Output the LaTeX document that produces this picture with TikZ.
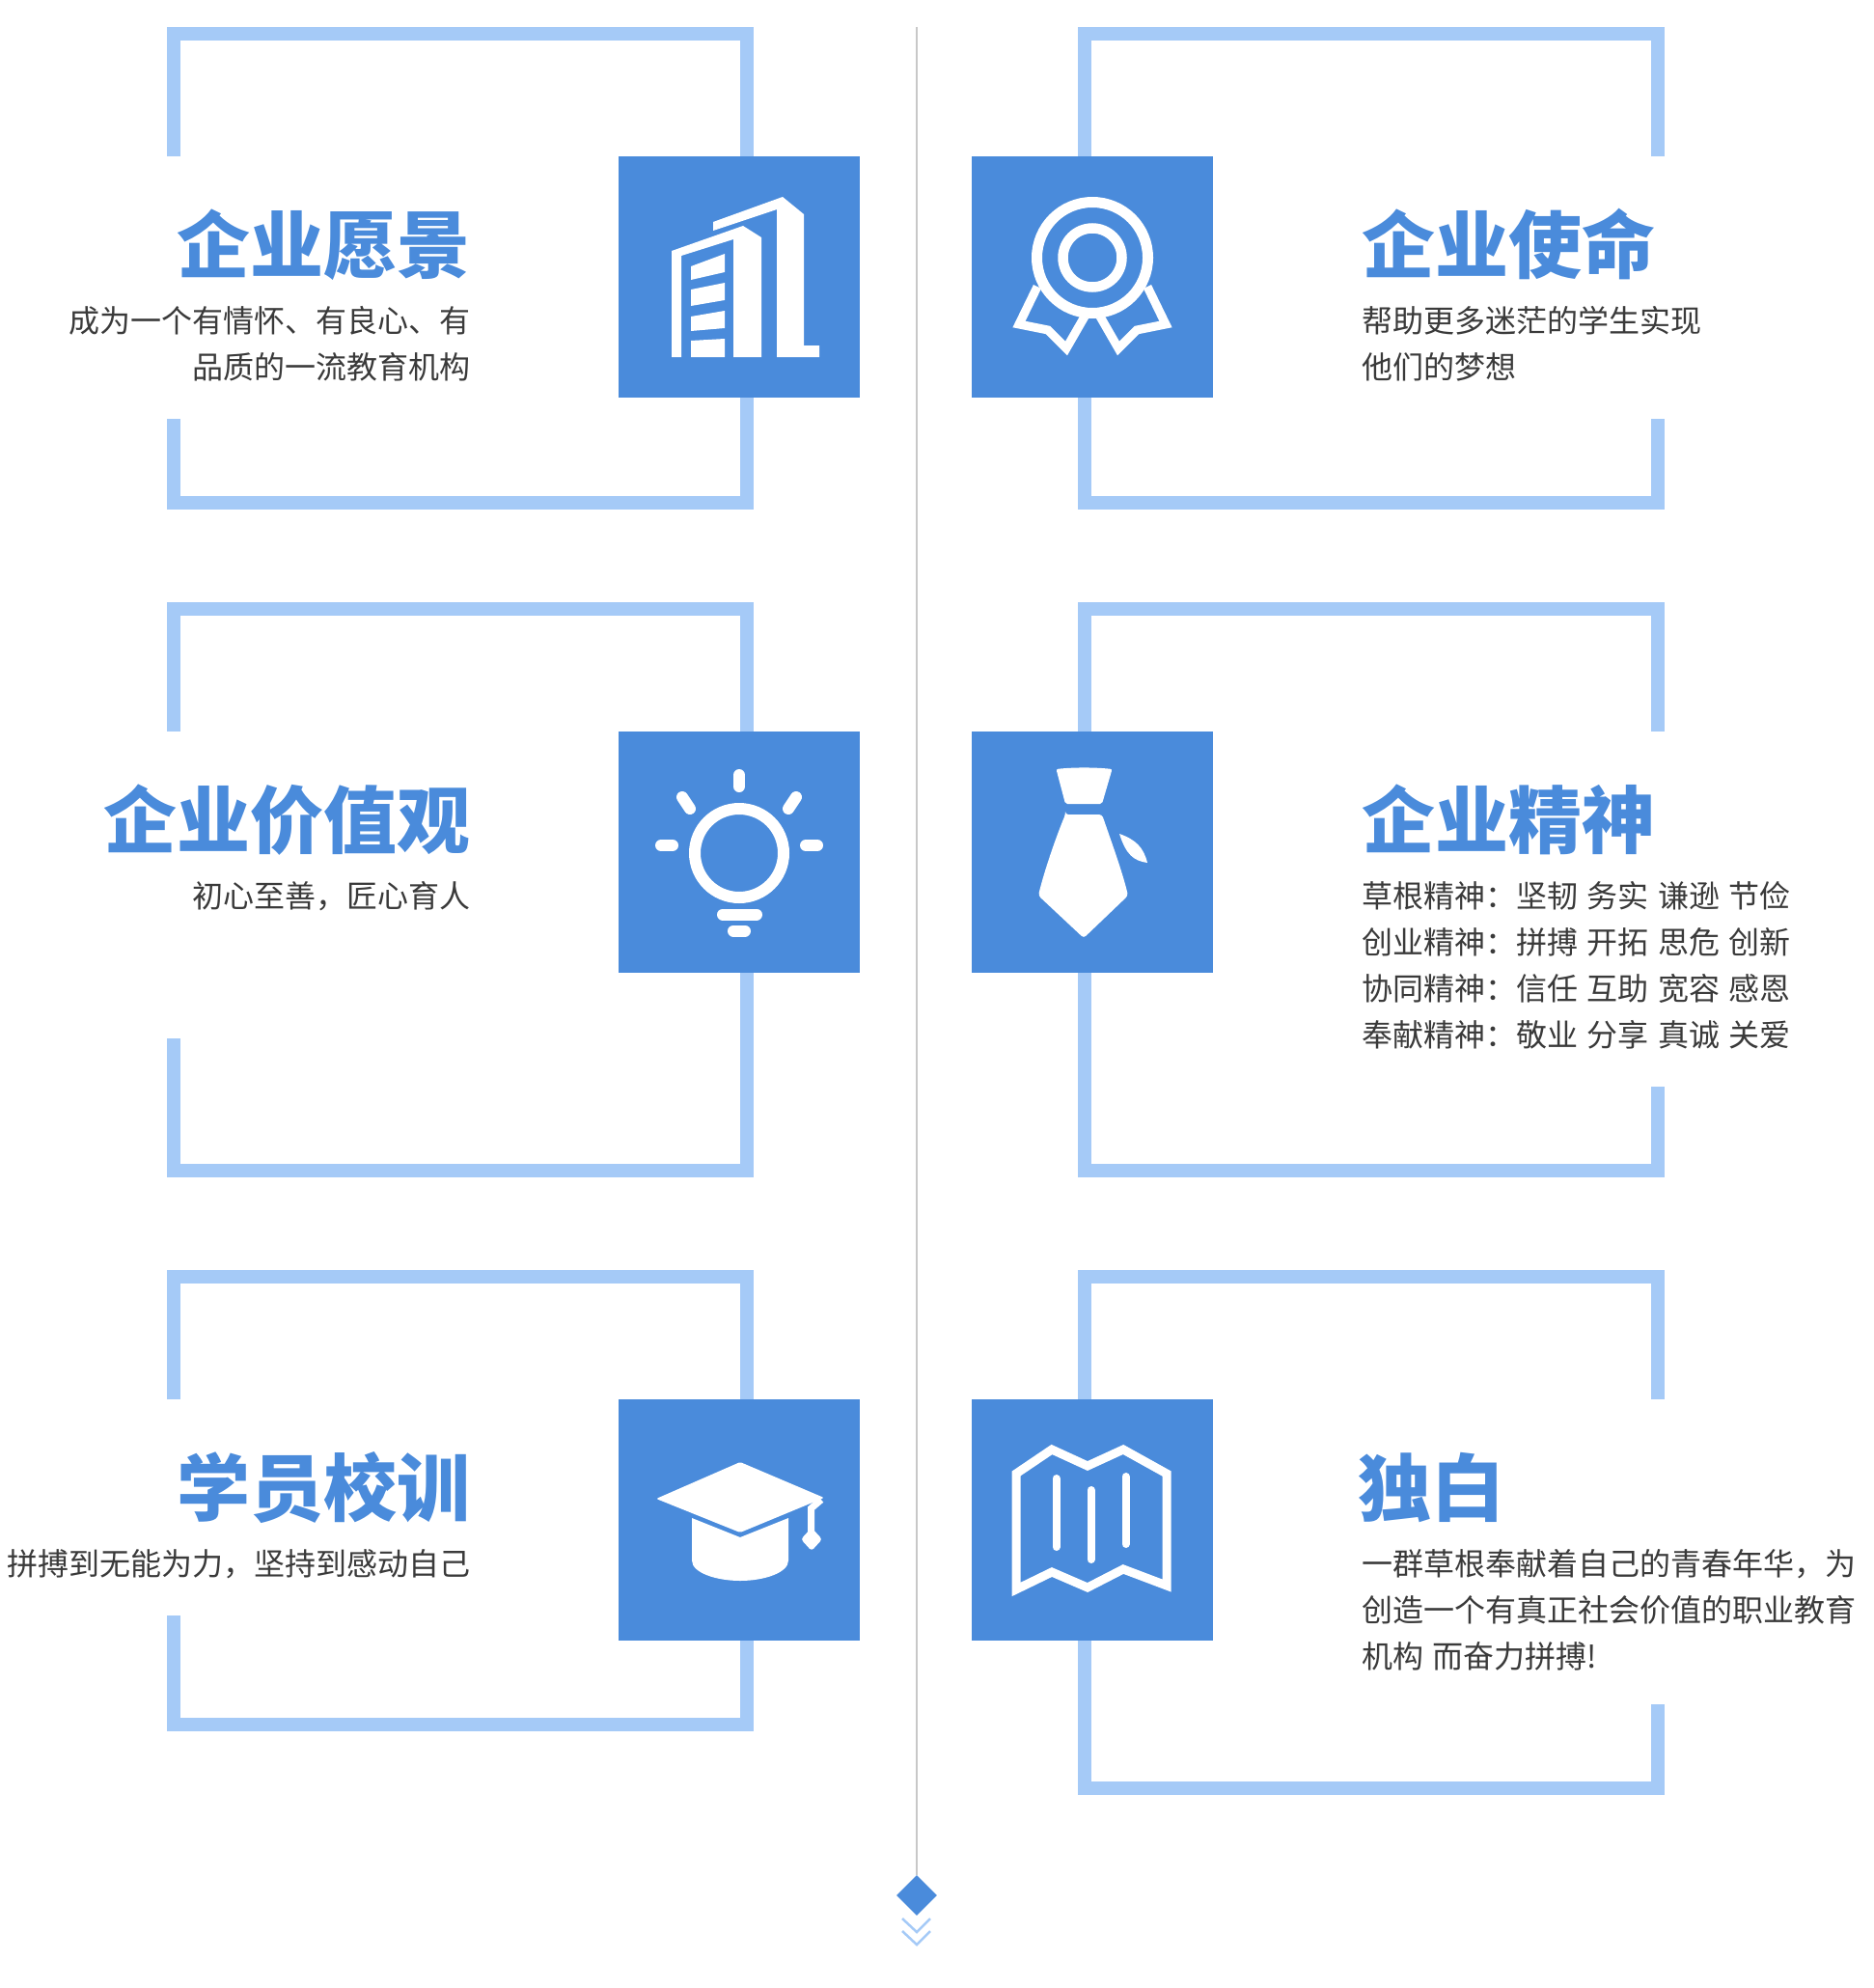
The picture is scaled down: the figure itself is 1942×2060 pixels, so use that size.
\documentclass[tikz,border=0pt]{standalone}
\usepackage{fontspec}
\usetikzlibrary{shapes.geometric}
\newfontfamily\cjkfont{Noto Sans CJK SC}
\newcommand{\titlefont}{\cjkfont\bfseries\fontsize{76}{80}\selectfont}
\newcommand{\bodyfont}{\cjkfont\fontsize{32}{48}\selectfont\spaceskip=9.4pt\relax}
\definecolor{iconblue}{HTML}{4A8BDB}
\definecolor{framblue}{HTML}{A5CAF7}
\definecolor{bodygray}{HTML}{3A3A3A}
\definecolor{axisgray}{HTML}{C8C8C8}

\begin{document}
\begin{tikzpicture}[x=1pt, y=-1pt]
    \tikzstyle{frame line} = [draw=framblue, line width=14pt, miter limit=10]
    \tikzstyle{icon box} = [fill=iconblue, minimum size=250pt, inner sep=0pt, anchor=north west]
    \tikzstyle{title left} = [text=iconblue, font=\titlefont, inner sep=0pt, anchor=base east]
    \tikzstyle{title right} = [text=iconblue, font=\titlefont, inner sep=0pt, anchor=base west]
    \tikzstyle{body left} = [text=bodygray, font=\bodyfont, inner sep=0pt, anchor=base east, align=right]
    \tikzstyle{body right} = [text=bodygray, font=\bodyfont, inner sep=0pt, anchor=base west, align=left]
    \tikzstyle{icon stroke} = [draw=white, line width=12pt, line cap=round]
    \tikzstyle{icon thin} = [draw=white, line width=9pt, miter limit=10]
    \useasboundingbox (0, 0) rectangle (1942, 2060);

    \draw[frame line] (180, 162) -- (180, 35) -- (774, 35) -- (774, 521) -- (180, 521) -- (180, 434);
    \draw[frame line] (1124, 162) -- (1124, 35) -- (1718, 35) -- (1718, 162);
    \draw[frame line] (1124, 412) -- (1124, 521) -- (1718, 521) -- (1718, 434);
    \draw[frame line] (180, 758) -- (180, 631) -- (774, 631) -- (774, 1213) -- (180, 1213) -- (180, 1076);
    \draw[frame line] (1124, 758) -- (1124, 631) -- (1718, 631) -- (1718, 758);
    \draw[frame line] (1124, 1008) -- (1124, 1213) -- (1718, 1213) -- (1718, 1126);
    \draw[frame line] (180, 1450) -- (180, 1323) -- (774, 1323) -- (774, 1787) -- (180, 1787) -- (180, 1674);
    \draw[frame line] (1124, 1450) -- (1124, 1323) -- (1718, 1323) -- (1718, 1450);
    \draw[frame line] (1124, 1700) -- (1124, 1853) -- (1718, 1853) -- (1718, 1766);

    \node[diamond, fill=iconblue, minimum width=42pt, minimum height=42pt, inner sep=0pt] (endMark) at (950, 1964) {};
    \coordinate (axisTop) at (950, 28);
    \draw[axisgray, line width=2pt] (axisTop) -- (endMark.north);
    \draw[framblue, line width=2.5pt] (935, 1988) -- (950, 2002) -- (964, 1988);
    \draw[framblue, line width=2.5pt] (935, 2001) -- (950, 2015) -- (964, 2001);

    \node[icon box] (visionBox) at (641, 162) {};
    \node[icon box] (missionBox) at (1007, 162) {};
    \node[icon box] (valueBox) at (641, 758) {};
    \node[icon box] (spiritBox) at (1007, 758) {};
    \node[icon box] (schoolBox) at (641, 1450) {};
    \node[icon box] (soloBox) at (1007, 1450) {};

    \begin{scope}[shift={(641, 162)}]
        \fill[white] (98, 68) -- (170, 42) -- (192, 60) -- (192, 196) -- (208, 196) -- (208, 208) -- (164, 208) -- (164, 55) -- (98, 77) -- cycle;
        \fill[white] (55, 98) -- (129, 72) -- (148, 84) -- (148, 208) -- (119, 208) -- (119, 86) -- (65, 103) -- (65, 208) -- (55, 208) -- cycle;
        \fill[white] (75, 114) -- (110, 101) -- (110, 120) -- (75, 128) -- cycle;
        \fill[white] (75, 138) -- (110, 131) -- (110, 149) -- (75, 155) -- cycle;
        \fill[white] (75, 166) -- (110, 160) -- (110, 178) -- (75, 181) -- cycle;
        \fill[white] (75, 191) -- (110, 189) -- (110, 208) -- (75, 208) -- cycle;
    \end{scope}

    \begin{scope}[shift={(1007, 162)}]
        \draw[draw=white, line width=11pt] (125, 105) circle (57.5);
        \draw[draw=white, line width=10.5pt] (125, 105) circle (30.5);
        \draw[icon thin] (68, 135) -- (49, 174) -- (79, 180) -- (98, 199) -- (117, 166);
        \draw[icon thin] (182, 135) -- (201, 174) -- (171, 180) -- (152, 199) -- (133, 166);
    \end{scope}

    \begin{scope}[shift={(641, 758)}]
        \draw[draw=white, line width=12pt] (125, 126) circle (46);
        \draw[icon stroke] (125, 45) -- (125, 57);
        \draw[icon stroke] (44, 118) -- (56, 118);
        \draw[icon stroke] (194, 118) -- (206, 118);
        \draw[icon stroke] (66, 68) -- (74, 80);
        \draw[icon stroke] (184, 68) -- (176, 80);
        \draw[icon stroke] (108, 189.5) -- (143, 189.5);
        \draw[icon stroke] (119, 206.5) -- (131, 206.5);
    \end{scope}

    \begin{scope}[shift={(1007, 758)}]
        \fill[white, rounded corners=2pt] (87.5, 39) .. controls (105, 37) and (128, 37) .. (145.5, 39) -- (135, 75) -- (97, 75) -- cycle;
        \fill[white, rounded corners=3pt] (97, 86) -- (135, 86) .. controls (145, 115) and (156, 145) .. (162, 170) -- (116, 214) -- (69, 170) .. controls (75, 145) and (87, 110) .. (97, 86) -- cycle;
        \fill[white] (153, 106) .. controls (170, 112) and (178, 120) .. (182, 136) .. controls (168, 134) and (160, 128) .. (153, 106) -- cycle;
    \end{scope}

    \begin{scope}[shift={(641, 1450)}]
        \fill[white, rounded corners=1.5pt] (126, 65) -- (213, 102) -- (126, 138) -- (39, 103) -- cycle;
        \fill[white] (76, 123) -- (126, 143) -- (176, 123) -- (176, 167) .. controls (176, 180) and (150, 188) .. (126, 188) .. controls (102, 188) and (76, 180) .. (76, 167) -- cycle;
        \draw[draw=white, line width=7pt] (210, 104) -- (199.5, 113) -- (199.5, 140);
        \fill[white, rounded corners=3pt] (200, 133) -- (211, 145) -- (200, 157) -- (189, 145) -- cycle;
    \end{scope}

    \begin{scope}[shift={(1007, 1450)}]
        \draw[icon thin, line join=miter] (46, 77) -- (83, 52) -- (120, 69) -- (157, 52) -- (202, 77) -- (202, 193) -- (157, 176) -- (120, 195) -- (83, 179) -- (46, 197) -- cycle;
        \draw[icon stroke, line width=8pt] (87.5, 82) -- (87.5, 153);
        \draw[icon stroke, line width=8pt] (123.5, 94) -- (123.5, 166);
        \draw[icon stroke, line width=8pt] (159.5, 80) -- (159.5, 150);
    \end{scope}

    \node[title left] (visionTitle) at (488, 282) {企业愿景};
    \node[body left] (visionText) at (488, 392) {成为一个有情怀、有良心、有\\品质的一流教育机构};
    \node[title right] (missionTitle) at (1411, 282) {企业使命};
    \node[body right] (missionText) at (1411, 392) {帮助更多迷茫的学生实现\\他们的梦想};
    \node[title left] (valueTitle) at (488, 878) {企业价值观};
    \node[body left] (valueText) at (488, 940) {初心至善，匠心育人};
    \node[title right] (spiritTitle) at (1411, 878) {企业精神};
    \node[body right] (spiritText) at (1411, 1084) {草根精神：坚韧 务实 谦逊 节俭\\创业精神：拼搏 开拓 思危 创新\\协同精神：信任 互助 宽容 感恩\\奉献精神：敬业 分享 真诚 关爱};
    \node[title left] (schoolTitle) at (488, 1570) {学员校训};
    \node[body left] (schoolText) at (488, 1632) {拼搏到无能为力，坚持到感动自己};
    \node[title right] (soloTitle) at (1407, 1570) {独白};
    \node[body right] (soloText) at (1411, 1728) {一群草根奉献着自己的青春年华，为\\创造一个有真正社会价值的职业教育\\机构 而奋力拼搏!};
\end{tikzpicture}
\end{document}
